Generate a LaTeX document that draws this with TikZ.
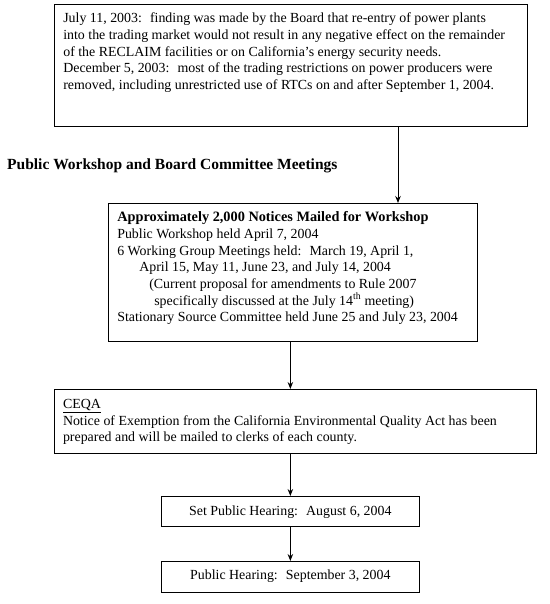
\documentclass[tikz,border=0pt]{standalone}
\usepackage{fontspec}
\setmainfont{Liberation Serif}
\usetikzlibrary{positioning,calc,arrows.meta}

\begin{document}
\begin{tikzpicture}[x=1bp, y=-1bp,
    font=\fontsize{13.9bp}{16.7bp}\selectfont,
    box/.style={draw, line width=0.9bp, inner sep=0pt, outer sep=0pt, anchor=north west},
    note/.style={box, align=flush left, inner xsep=9bp},
    stage/.style={box, align=center, minimum width=257.3bp},
    flow/.style={-{Stealth[length=7bp, width=5.5bp]}, line width=0.9bp}]
    \useasboundingbox (0,0) rectangle (550,604);

    \node[note, text width=455.4bp, text height=18.4bp, text depth=103.3bp] (jul) at (54.3,4.3)
        {July 11, 2003:~ finding was made by the Board that re-entry of power plants\\
         into the trading market would not result in any negative effect on the remainder\\
         of the RECLAIM facilities or on California's energy security needs.\\
         December 5, 2003:~ most of the trading restrictions on power producers were\\
         removed, including unrestricted use of RTCs on and after September 1, 2004.};

    \node[anchor=base west, inner sep=0pt] (head) at (7,170)
        {\fontsize{15.5bp}{18bp}\selectfont\textbf{Public Workshop and Board Committee Meetings}};

    \node[note, text width=351.4bp, text height=18.7bp, text depth=119.3bp] (wkshp) at (108.3,203)
        {{\fontsize{14.3bp}{16.7bp}\selectfont\textbf{Approximately 2,000 Notices Mailed for Workshop}}\\
         Public Workshop held April 7, 2004\\
         6 Working Group Meetings held:~ March 19, April 1,\\
         \hspace*{22bp}April 15, May 11, June 23, and July 14, 2004\\
         \hspace*{32bp}(Current proposal for amendments to Rule 2007\\
         \hspace*{37bp}specifically discussed at the July 14\textsuperscript{th} meeting)\\
         Stationary Source Committee held June 25 and July 23, 2004};

    \node[note, text width=464.7bp, text height=19.3bp, text depth=44.7bp] (ceqa) at (54,389)
        {\underline{CEQA}\\
         Notice of Exemption from the California Environmental Quality Act has been\\
         prepared and will be mailed to clerks of each county.};

    \node[stage, text height=19bp, text depth=11bp] (set) at (161.7,496)
        {Set Public Hearing:~ August 6, 2004};
    \node[stage, text height=18.3bp, text depth=13.4bp] (hear) at (161.7,561)
        {Public Hearing:~ September 3, 2004};

    % connectors
    \coordinate (drop) at (398,0);
    \draw[flow] (jul.south -| drop) -- (wkshp.north -| drop);
    \draw[flow] (wkshp.south -| set.north) -- (ceqa.north -| set.north);
    \draw[flow] (ceqa.south -| set.north) -- (set.north);
    \draw[flow] (set) -- (hear);
\end{tikzpicture}
\end{document}
